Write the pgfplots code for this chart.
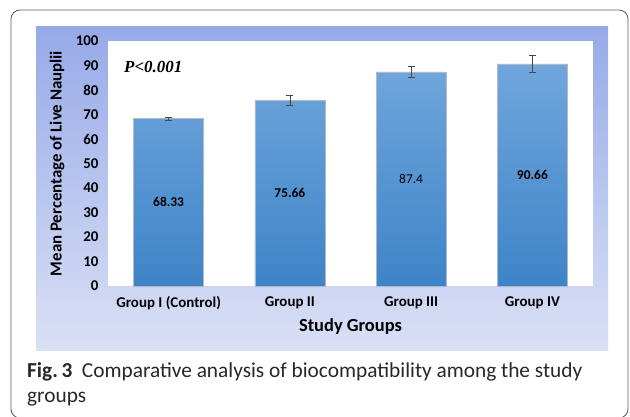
\documentclass[border=0pt]{standalone}
\usepackage{pgfplots}
\pgfplotsset{compat=1.18}
\usepackage{fontspec}
\setmainfont{Carlito}
\newfontfamily\timesf{Liberation Serif}
\definecolor{bgTop}{RGB}{150,170,232}
\definecolor{bgBot}{RGB}{218,224,245}
\definecolor{barTop}{RGB}{112,166,220}
\definecolor{barBot}{RGB}{62,132,200}
\definecolor{errc}{RGB}{70,70,70}
\definecolor{borderc}{RGB}{90,90,90}
\begin{document}
\begin{tikzpicture}[x=1bp,y=1bp]
\useasboundingbox (0,0) rectangle (630,416);
\draw[borderc, line width=0.8bp, rounded corners=9bp] (11,-2) rectangle (628,406);
\shade[top color=bgTop, bottom color=bgBot] (36,66) rectangle (608,389);
\begin{axis}[
  at={(108bp,130bp)}, anchor=south west,
  scale only axis, width=485bp, height=245bp,
  xmin=-0.5, xmax=3.5, ymin=0, ymax=100,
  xtick={0,1,2,3},
  xticklabels={Group I (Control),Group II,Group III,Group IV},
  ytick={0,10,...,100},
  axis line style={draw=none},
  major tick length=0pt,
  axis background/.style={fill=white},
  /pgf/number format/assume math mode=true,
  tick label style={font=\bfseries\fontsize{15}{17}\selectfont, text=black},
  xticklabel style={anchor=center},
  xticklabel shift={17bp},
  yticklabel style={anchor=east},
  yticklabel shift={6bp},
  xlabel={Study Groups},
  ylabel={Mean Percentage of Live Nauplii},
  xlabel style={font=\bfseries\fontsize{18.5}{20}\selectfont, at={(axis description cs:0.5,-0.167)}, anchor=center},
  ylabel style={font=\bfseries\fontsize{16.9}{18}\selectfont, at={(axis description cs:-0.105,0.5)}, anchor=center, rotate=0},
  clip=false,
]
\addplot[ybar, bar width=70bp, draw={rgb,255:red,175;green,185;blue,200}, line width=0.4bp, top color=barTop, bottom color=barBot]
  coordinates {(0,68.33) (1,75.66) (2,87.4) (3,90.66)};
\addplot[draw=none, mark=none, forget plot,
  error bars/.cd, y dir=both, y explicit,
  error bar style={draw=errc, line width=0.7bp, solid},
  error mark options={rotate=90, mark size=3.5bp, draw=errc, line width=0.7bp}]
  coordinates {(0,68.33) +- (0,0.7) (1,75.66) +- (0,2.0) (2,87.4) +- (0,2.2) (3,90.66) +- (0,3.4)};
\addplot[only marks, mark=none, forget plot, point meta=explicit symbolic,
  nodes near coords, nodes near coords style={anchor=center, font=\fontsize{13.5}{15}\selectfont, text=black}]
  coordinates {(0,34.165) [\textbf{68.33}] (1,37.83) [\textbf{75.66}] (2,43.7) [87.4] (3,45.33) [\textbf{90.66}]};
\end{axis}
\node[anchor=west, inner sep=0pt, font=\timesf\bfseries\itshape\fontsize{17}{19}\selectfont] at (124,349) {P<0.001};
\node[anchor=base west, inner sep=0pt, font=\fontsize{21.4}{24}\selectfont, text={rgb,255:red,40;green,40;blue,40}] at (27,39) {\textbf{Fig.\,3}\hspace{0.45em}Comparative analysis of biocompatibility among the study};
\node[anchor=base west, inner sep=0pt, font=\fontsize{21.4}{24}\selectfont, text={rgb,255:red,40;green,40;blue,40}] at (27,14) {groups};
\end{tikzpicture}
\end{document}
